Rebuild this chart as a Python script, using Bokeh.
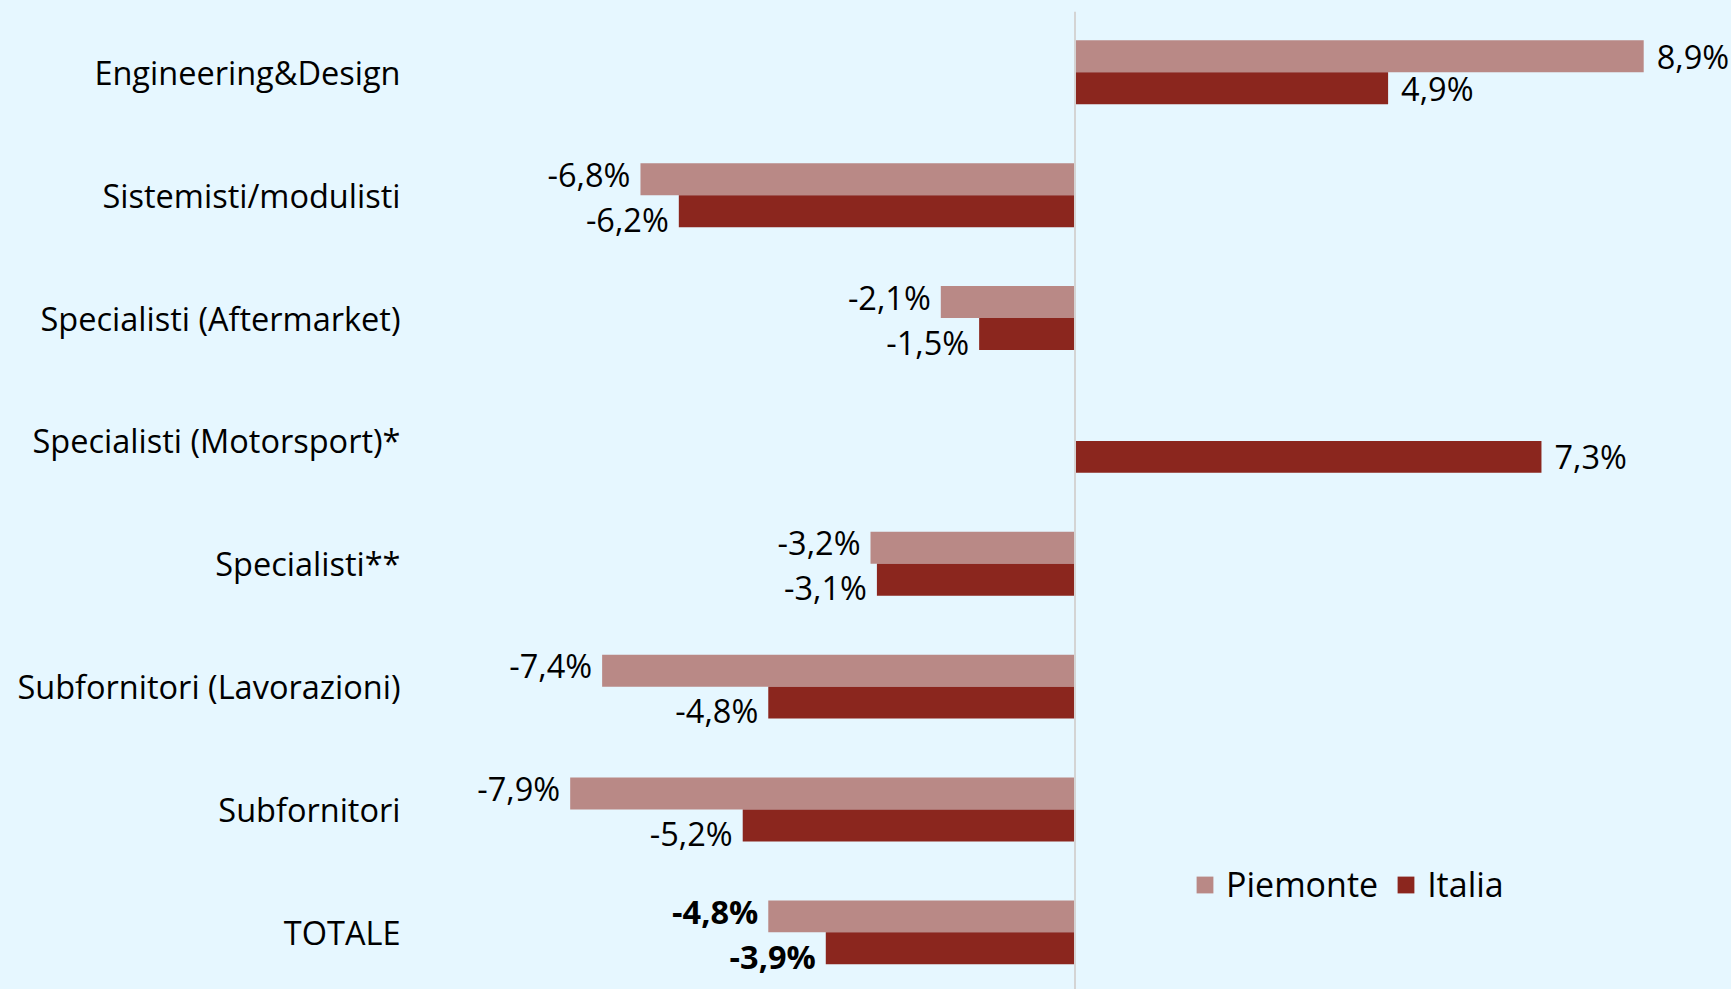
from bokeh.plotting import figure
from bokeh.models import ColumnDataSource, Range1d, FixedTicker, Span, Legend, LegendItem
from bokeh.core.properties import value
from bokeh.embed import file_html
from bokeh.resources import INLINE
import math

categories = ["Engineering&Design", "Sistemisti/modulisti", "Specialisti (Aftermarket)",
              "Specialisti (Motorsport)*", "Specialisti**", "Subfornitori (Lavorazioni)",
              "Subfornitori", "TOTALE"]
piemonte = [8.9, -6.8, -2.1, float("nan"), -3.2, -7.4, -7.9, -4.8]
italia = [4.9, -6.2, -1.5, 7.3, -3.1, -4.8, -5.2, -3.9]
series_names = ["Piemonte", "Italia"]
series_colors = ["#B98986", "#8B261E"]

BG = "#E6F7FF"
FONT = "Open Sans"
FS = "32.5px"
n = len(categories)
ypos = [n - 1 - i for i in range(n)]
bar_h = 0.26

p = figure(width=1731, height=989, output_backend="svg", toolbar_location=None,
           x_range=Range1d(-10.399, 10.274), y_range=Range1d(-0.465, 7.495),
           x_axis_type=None, min_border_left=410, min_border_right=0,
           min_border_top=11, min_border_bottom=0,
           background_fill_color=BG, border_fill_color=BG, outline_line_color=None)
p.grid.visible = False

renderers = []
for k, (vals, off, col) in enumerate([(piemonte, bar_h / 2, series_colors[0]),
                                      (italia, -bar_h / 2, series_colors[1])]):
    ys = [y + off for y in ypos]
    src = ColumnDataSource(dict(y=ys, right=vals))
    r = p.hbar(y="y", left=0, right="right", height=bar_h, source=src,
               fill_color=col, line_color=None)
    renderers.append(r)

    lx, ly, lt, la, lo, lyo, lst = [], [], [], [], [], [], []
    for i, v in enumerate(vals):
        if v is None or (isinstance(v, float) and math.isnan(v)):
            continue
        lx.append(v)
        ly.append(ys[i])
        lt.append(f"{v:.1f}%".replace(".", ","))
        la.append("left" if v >= 0 else "right")
        lo.append(13 if v >= 0 else -10)
        lyo.append(0 if v >= 0 else (-5 if k == 0 else 8))
        lst.append("bold" if categories[i] == "TOTALE" else "normal")
    lsrc = ColumnDataSource(dict(x=lx, y=ly, t=lt, a=la, o=lo, yo=lyo, s=lst))
    p.text(x="x", y="y", text="t", source=lsrc, text_align="a", x_offset="o", y_offset="yo",
           text_baseline="middle", text_font=value(FONT), text_font_size=FS,
           text_font_style="s", text_color="#000000")

p.add_layout(Span(location=0, dimension="height", line_color="#D4D4D4", line_width=2))

ax = p.yaxis[0]
ax.ticker = FixedTicker(ticks=ypos)
ax.major_label_overrides = {y: c for y, c in zip(ypos, categories)}
ax.major_tick_line_color = None
ax.minor_tick_line_color = None
ax.axis_line_color = None
ax.major_label_text_font = FONT
ax.major_label_text_font_size = FS
ax.major_label_text_color = "#000000"
ax.major_label_standoff = 4

legend = Legend(items=[LegendItem(label=nm, renderers=[r]) for nm, r in zip(series_names, renderers)],
                orientation="horizontal", location=(784, 82),
                glyph_width=21, glyph_height=21, label_standoff=11, spacing=17,
                padding=0, margin=0, background_fill_alpha=0, border_line_color=None,
                label_text_font=FONT, label_text_font_size="34px", label_text_color="#000000")
p.add_layout(legend)

html = file_html(p, INLINE)
style = ("<style>html, body { margin: 0 !important; padding: 0 !important; "
         f"overflow: hidden !important; background-color: {BG} !important; }}</style></head>")
html = html.replace("</head>", style, 1)
open("out.html", "w").write(html)
